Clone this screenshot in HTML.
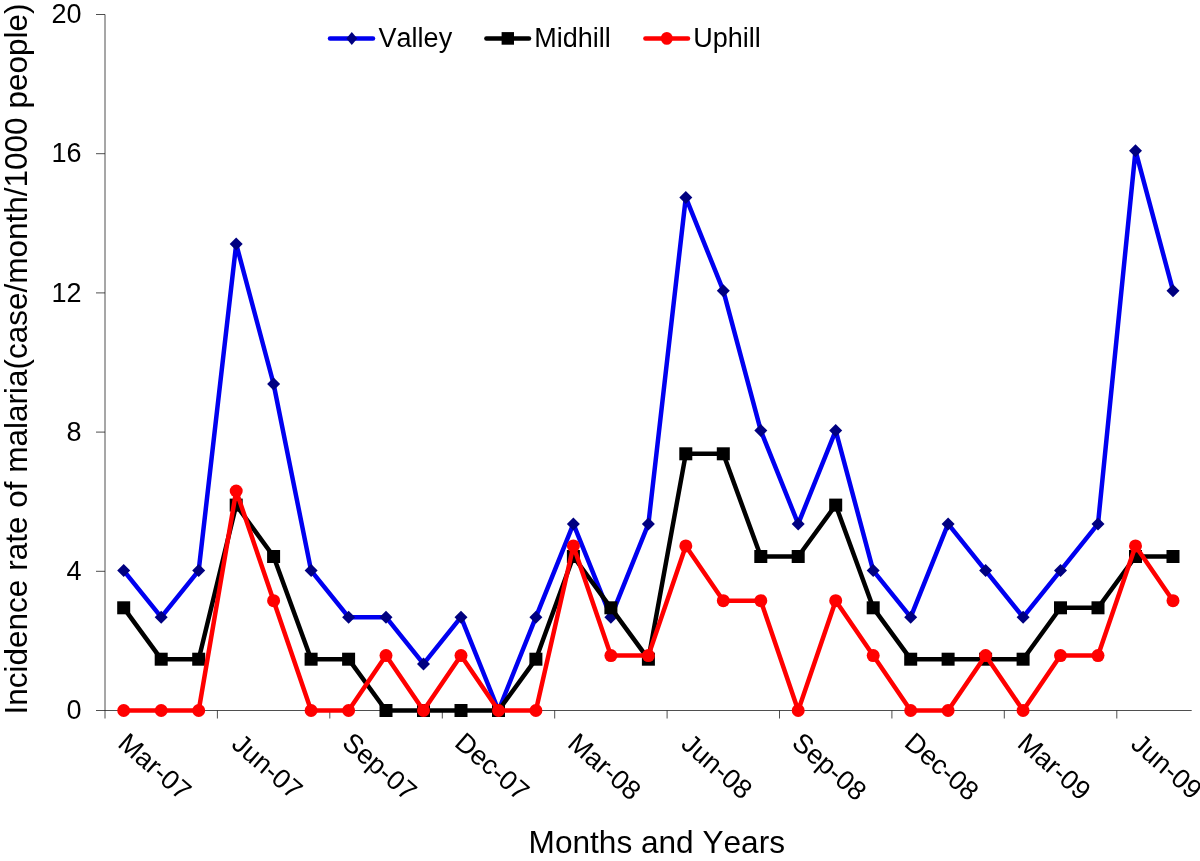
<!DOCTYPE html>
<html lang="en"><head><meta charset="utf-8"><title>Incidence rate of malaria</title>
<style>html,body{margin:0;padding:0;background:#fff}svg{display:block}text{font-family:"Liberation Sans",Arial,sans-serif;fill:#000;font-kerning:none}</style></head><body>
<svg width="1200" height="861" viewBox="0 0 1200 861">
<rect width="1200" height="861" fill="#fff"/>
<g stroke="#222222" stroke-width="0.8" fill="none"><line x1="105.0" y1="14.5" x2="105.0" y2="718.5"/><line x1="96.0" y1="710.5" x2="1191.7" y2="710.5"/><line x1="96.0" y1="571.3" x2="105.0" y2="571.3"/><line x1="96.0" y1="432.1" x2="105.0" y2="432.1"/><line x1="96.0" y1="292.9" x2="105.0" y2="292.9"/><line x1="96.0" y1="153.7" x2="105.0" y2="153.7"/><line x1="96.0" y1="14.5" x2="105.0" y2="14.5"/><line x1="217.4" y1="710.5" x2="217.4" y2="718.5"/><line x1="329.8" y1="710.5" x2="329.8" y2="718.5"/><line x1="442.3" y1="710.5" x2="442.3" y2="718.5"/><line x1="554.7" y1="710.5" x2="554.7" y2="718.5"/><line x1="667.1" y1="710.5" x2="667.1" y2="718.5"/><line x1="779.5" y1="710.5" x2="779.5" y2="718.5"/><line x1="891.9" y1="710.5" x2="891.9" y2="718.5"/><line x1="1004.3" y1="710.5" x2="1004.3" y2="718.5"/><line x1="1116.8" y1="710.5" x2="1116.8" y2="718.5"/></g>
<g font-size="27" text-anchor="end"><text x="81.6" y="719.1">0</text><text x="81.6" y="579.9">4</text><text x="81.6" y="440.7">8</text><text x="81.6" y="301.5">12</text><text x="81.6" y="162.3">16</text><text x="81.6" y="23.1">20</text></g>
<g font-size="27" text-anchor="middle"><text transform="translate(155.2 766.2) rotate(41)" x="0" y="9.6">Mar-07</text><text transform="translate(267.6 766.2) rotate(41)" x="0" y="9.6">Jun-07</text><text transform="translate(380.0 766.2) rotate(41)" x="0" y="9.6">Sep-07</text><text transform="translate(492.5 766.2) rotate(41)" x="0" y="9.6">Dec-07</text><text transform="translate(604.9 766.2) rotate(41)" x="0" y="9.6">Mar-08</text><text transform="translate(717.3 766.2) rotate(41)" x="0" y="9.6">Jun-08</text><text transform="translate(829.7 766.2) rotate(41)" x="0" y="9.6">Sep-08</text><text transform="translate(942.1 766.2) rotate(41)" x="0" y="9.6">Dec-08</text><text transform="translate(1054.5 766.2) rotate(41)" x="0" y="9.6">Mar-09</text><text transform="translate(1167.0 766.2) rotate(41)" x="0" y="9.6">Jun-09</text></g>
<text x="656.8" y="853.4" font-size="31.6" text-anchor="middle">Months and Years</text>
<text transform="translate(26.9 359) rotate(-90)" font-size="31.5" text-anchor="middle">Incidence rate of malaria(case/month/1000 people)</text>
<polyline points="123.7,570.6 161.2,617.2 198.7,570.6 236.2,244.0 273.6,384.0 311.1,570.6 348.6,617.2 386.0,617.2 423.5,663.9 461.0,617.2 498.5,710.5 535.9,617.2 573.4,523.9 610.9,617.2 648.4,523.9 685.8,197.4 723.3,290.7 760.8,430.6 798.2,523.9 835.7,430.6 873.2,570.6 910.7,617.2 948.1,523.9 985.6,570.6 1023.1,617.2 1060.5,570.6 1098.0,523.9 1135.5,150.7 1173.0,290.7" fill="none" stroke="#0000f0" stroke-width="4.5" stroke-linejoin="round" stroke-linecap="round"/>
<g fill="#000080"><path d="M123.7 564.1L130.2 570.6L123.7 577.1L117.2 570.6Z"/><path d="M161.2 610.7L167.7 617.2L161.2 623.7L154.7 617.2Z"/><path d="M198.7 564.1L205.2 570.6L198.7 577.1L192.2 570.6Z"/><path d="M236.2 237.5L242.7 244.0L236.2 250.5L229.7 244.0Z"/><path d="M273.6 377.5L280.1 384.0L273.6 390.5L267.1 384.0Z"/><path d="M311.1 564.1L317.6 570.6L311.1 577.1L304.6 570.6Z"/><path d="M348.6 610.7L355.1 617.2L348.6 623.7L342.1 617.2Z"/><path d="M386.0 610.7L392.5 617.2L386.0 623.7L379.5 617.2Z"/><path d="M423.5 657.4L430.0 663.9L423.5 670.4L417.0 663.9Z"/><path d="M461.0 610.7L467.5 617.2L461.0 623.7L454.5 617.2Z"/><path d="M498.5 704.0L505.0 710.5L498.5 717.0L492.0 710.5Z"/><path d="M535.9 610.7L542.4 617.2L535.9 623.7L529.4 617.2Z"/><path d="M573.4 517.4L579.9 523.9L573.4 530.4L566.9 523.9Z"/><path d="M610.9 610.7L617.4 617.2L610.9 623.7L604.4 617.2Z"/><path d="M648.4 517.4L654.9 523.9L648.4 530.4L641.9 523.9Z"/><path d="M685.8 190.9L692.3 197.4L685.8 203.9L679.3 197.4Z"/><path d="M723.3 284.2L729.8 290.7L723.3 297.2L716.8 290.7Z"/><path d="M760.8 424.1L767.3 430.6L760.8 437.1L754.3 430.6Z"/><path d="M798.2 517.4L804.7 523.9L798.2 530.4L791.7 523.9Z"/><path d="M835.7 424.1L842.2 430.6L835.7 437.1L829.2 430.6Z"/><path d="M873.2 564.1L879.7 570.6L873.2 577.1L866.7 570.6Z"/><path d="M910.7 610.7L917.2 617.2L910.7 623.7L904.2 617.2Z"/><path d="M948.1 517.4L954.6 523.9L948.1 530.4L941.6 523.9Z"/><path d="M985.6 564.1L992.1 570.6L985.6 577.1L979.1 570.6Z"/><path d="M1023.1 610.7L1029.6 617.2L1023.1 623.7L1016.6 617.2Z"/><path d="M1060.5 564.1L1067.0 570.6L1060.5 577.1L1054.0 570.6Z"/><path d="M1098.0 517.4L1104.5 523.9L1098.0 530.4L1091.5 523.9Z"/><path d="M1135.5 144.2L1142.0 150.7L1135.5 157.2L1129.0 150.7Z"/><path d="M1173.0 284.2L1179.5 290.7L1173.0 297.2L1166.5 290.7Z"/></g>
<polyline points="123.7,607.8 161.2,659.2 198.7,659.2 236.2,505.1 273.6,556.5 311.1,659.2 348.6,659.2 386.0,710.5 423.5,710.5 461.0,710.5 498.5,710.5 535.9,659.2 573.4,556.5 610.9,607.8 648.4,659.2 685.8,453.8 723.3,453.8 760.8,556.5 798.2,556.5 835.7,505.1 873.2,607.8 910.7,659.2 948.1,659.2 985.6,659.2 1023.1,659.2 1060.5,607.8 1098.0,607.8 1135.5,556.5 1173.0,556.5" fill="none" stroke="#000000" stroke-width="4.5" stroke-linejoin="round" stroke-linecap="round"/>
<g fill="#000000"><rect x="117.2" y="601.3" width="13.0" height="13.0"/><rect x="154.7" y="652.7" width="13.0" height="13.0"/><rect x="192.2" y="652.7" width="13.0" height="13.0"/><rect x="229.7" y="498.6" width="13.0" height="13.0"/><rect x="267.1" y="550.0" width="13.0" height="13.0"/><rect x="304.6" y="652.7" width="13.0" height="13.0"/><rect x="342.1" y="652.7" width="13.0" height="13.0"/><rect x="379.5" y="704.0" width="13.0" height="13.0"/><rect x="417.0" y="704.0" width="13.0" height="13.0"/><rect x="454.5" y="704.0" width="13.0" height="13.0"/><rect x="492.0" y="704.0" width="13.0" height="13.0"/><rect x="529.4" y="652.7" width="13.0" height="13.0"/><rect x="566.9" y="550.0" width="13.0" height="13.0"/><rect x="604.4" y="601.3" width="13.0" height="13.0"/><rect x="641.9" y="652.7" width="13.0" height="13.0"/><rect x="679.3" y="447.3" width="13.0" height="13.0"/><rect x="716.8" y="447.3" width="13.0" height="13.0"/><rect x="754.3" y="550.0" width="13.0" height="13.0"/><rect x="791.7" y="550.0" width="13.0" height="13.0"/><rect x="829.2" y="498.6" width="13.0" height="13.0"/><rect x="866.7" y="601.3" width="13.0" height="13.0"/><rect x="904.2" y="652.7" width="13.0" height="13.0"/><rect x="941.6" y="652.7" width="13.0" height="13.0"/><rect x="979.1" y="652.7" width="13.0" height="13.0"/><rect x="1016.6" y="652.7" width="13.0" height="13.0"/><rect x="1054.0" y="601.3" width="13.0" height="13.0"/><rect x="1091.5" y="601.3" width="13.0" height="13.0"/><rect x="1129.0" y="550.0" width="13.0" height="13.0"/><rect x="1166.5" y="550.0" width="13.0" height="13.0"/></g>
<polyline points="123.7,710.5 161.2,710.5 198.7,710.5 236.2,491.0 273.6,600.7 311.1,710.5 348.6,710.5 386.0,655.6 423.5,710.5 461.0,655.6 498.5,710.5 535.9,710.5 573.4,545.9 610.9,655.6 648.4,655.6 685.8,545.9 723.3,600.7 760.8,600.7 798.2,710.5 835.7,600.7 873.2,655.6 910.7,710.5 948.1,710.5 985.6,655.6 1023.1,710.5 1060.5,655.6 1098.0,655.6 1135.5,545.9 1173.0,600.7" fill="none" stroke="#ff0000" stroke-width="4.5" stroke-linejoin="round" stroke-linecap="round"/>
<g fill="#ff0000"><circle cx="123.7" cy="710.5" r="6.5"/><circle cx="161.2" cy="710.5" r="6.5"/><circle cx="198.7" cy="710.5" r="6.5"/><circle cx="236.2" cy="491.0" r="6.5"/><circle cx="273.6" cy="600.7" r="6.5"/><circle cx="311.1" cy="710.5" r="6.5"/><circle cx="348.6" cy="710.5" r="6.5"/><circle cx="386.0" cy="655.6" r="6.5"/><circle cx="423.5" cy="710.5" r="6.5"/><circle cx="461.0" cy="655.6" r="6.5"/><circle cx="498.5" cy="710.5" r="6.5"/><circle cx="535.9" cy="710.5" r="6.5"/><circle cx="573.4" cy="545.9" r="6.5"/><circle cx="610.9" cy="655.6" r="6.5"/><circle cx="648.4" cy="655.6" r="6.5"/><circle cx="685.8" cy="545.9" r="6.5"/><circle cx="723.3" cy="600.7" r="6.5"/><circle cx="760.8" cy="600.7" r="6.5"/><circle cx="798.2" cy="710.5" r="6.5"/><circle cx="835.7" cy="600.7" r="6.5"/><circle cx="873.2" cy="655.6" r="6.5"/><circle cx="910.7" cy="710.5" r="6.5"/><circle cx="948.1" cy="710.5" r="6.5"/><circle cx="985.6" cy="655.6" r="6.5"/><circle cx="1023.1" cy="710.5" r="6.5"/><circle cx="1060.5" cy="655.6" r="6.5"/><circle cx="1098.0" cy="655.6" r="6.5"/><circle cx="1135.5" cy="545.9" r="6.5"/><circle cx="1173.0" cy="600.7" r="6.5"/></g>
<line x1="330.0" y1="38.4" x2="373.0" y2="38.4" stroke="#0000f0" stroke-width="4.5" stroke-linecap="round"/>
<path d="M351.8 31.9L357.3 38.4L351.8 44.9L346.3 38.4Z" fill="#000080"/>
<line x1="486.4" y1="38.4" x2="529.0" y2="38.4" stroke="#000000" stroke-width="4.5" stroke-linecap="round"/>
<rect x="501.6" y="32.1" width="12.4" height="12.6" fill="#000000"/>
<line x1="645.4" y1="38.4" x2="688.0" y2="38.4" stroke="#ff0000" stroke-width="4.5" stroke-linecap="round"/>
<ellipse cx="666.8" cy="38.4" rx="5.9" ry="6.4" fill="#ff0000"/>
<g font-size="27"><text x="378.6" y="46.7">Valley</text><text x="534.2" y="46.7">Midhill</text><text x="693.2" y="46.7">Uphill</text></g>
</svg></body></html>
